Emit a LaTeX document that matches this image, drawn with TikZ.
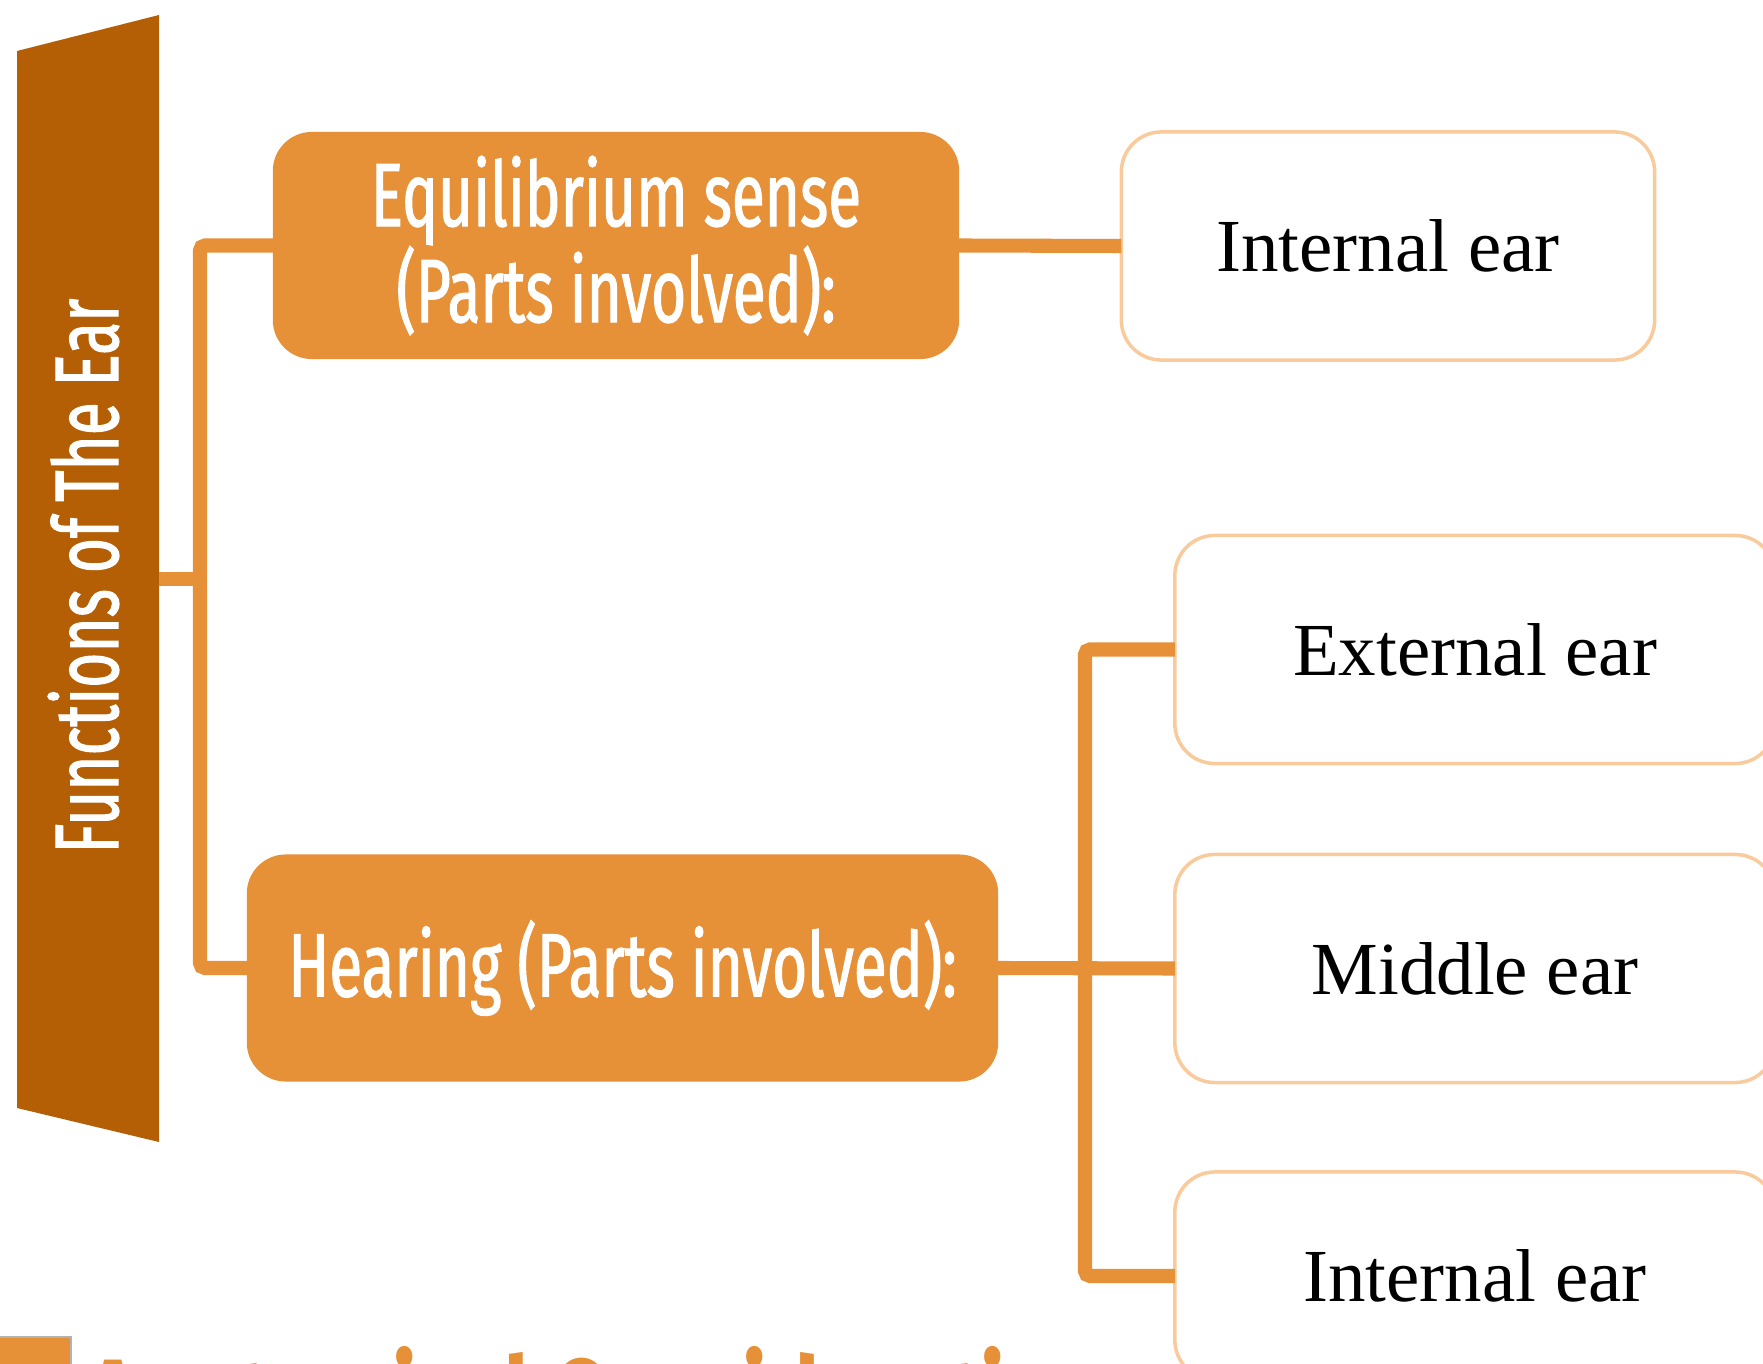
\documentclass[tikz,border=0pt]{standalone}
\usepackage{fontspec}
\setmainfont{Liberation Serif}
\newfontfamily\narrowfont[FakeStretch=0.67,FakeBold=1.2]{Fira Sans}
\newfontfamily\headfont[FakeStretch=0.75]{Fira Sans}
\definecolor{earorange}{HTML}{E69138}
\definecolor{earbrown}{HTML}{B45F06}
\definecolor{earpeach}{HTML}{F9CB9C}
\begin{document}
\begin{tikzpicture}[x=0.01cm, y=-0.01cm,
                    line width=4pt]
    \tikzstyle{parent}=[rectangle, rounded corners=0.39cm, fill=earorange, text=white, font=\narrowfont\fontsize{25.6}{27.3}\selectfont, align=center, inner sep=0pt, outer sep=0pt, minimum height=2.27cm]
    \tikzstyle{part}=[rectangle, rounded corners=0.4cm, draw=earpeach, line width=1pt, fill=white, font=\fontsize{21.3}{24}\selectfont, inner sep=0pt, outer sep=0pt, minimum height=2.28cm]
    \tikzstyle{link}=[draw=earorange, line width=4pt, rounded corners=0.05cm]

    \useasboundingbox (0,0) rectangle (1763,1364);
    \clip (0,0) rectangle (1763,1364);

    \fill[earbrown] (17,51) -- (159,15) -- (159,1142) -- (17,1108) -- cycle;
    \node[rotate=90, anchor=base, inner sep=0pt, text=white, font=\narrowfont\fontsize{25.6}{27.3}\selectfont] (title) at (118,576) {Functions of The Ear};
    \coordinate (root) at (159,579);
    \coordinate (split) at (200,579);
    \coordinate (fork) at (1085,967);

    \node[parent, minimum width=6.86cm] (equi) at (616,245.5) {Equilibrium sense\\(Parts involved):};
    \node[parent, minimum width=7.51cm] (hear) at (622.5,968) {Hearing (Parts involved):};
    \node[part, minimum width=5.33cm] (internalA) at (1388,246) {Internal ear};
    \node[part, minimum width=6cm] (external) at (1475,649.5) {External ear};
    \node[part, minimum width=6cm] (middle) at (1475,968.5) {Middle ear};
    \node[part, minimum width=6cm, minimum height=2.08cm] (internalB) at (1475,1276) {Internal ear};

    \draw[link] (root) -- (split);
    \draw[link] (equi.west) -| (split) |- (hear.west);
    \draw[link] (equi.east) -- (internalA.west);
    \draw[link] (hear.east) -- (middle.west);
    \draw[link] (external.west) -| (fork) |- (internalB.west);

    \fill[earorange] (0,1337) rectangle (71,1380);
    \draw[gray!60, line width=0.8pt] (0,1337) -- (71,1337) -- (71,1380);
    \node[anchor=base west, inner sep=0pt, text=earorange, font=\headfont\bfseries\fontsize{33}{36}\selectfont] (heading) at (80,1440) {Anatomical Considerations};
\end{tikzpicture}
\end{document}
